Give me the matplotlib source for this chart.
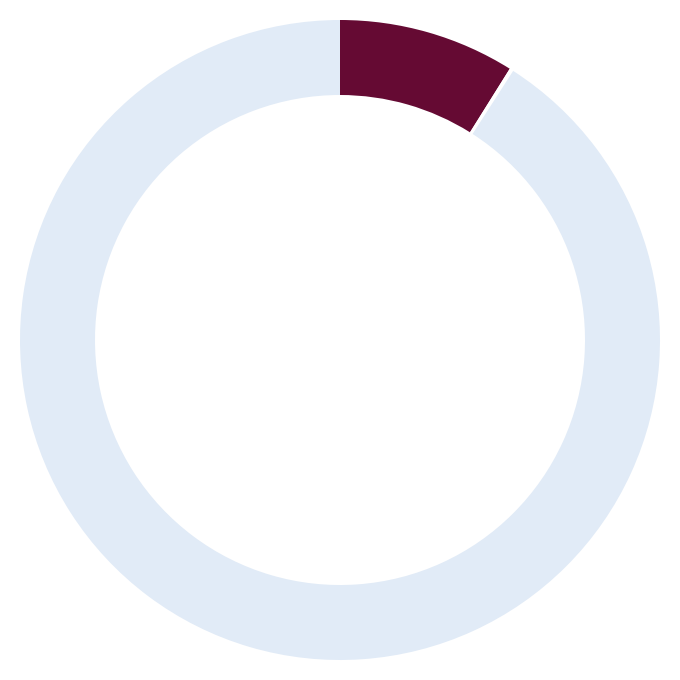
import matplotlib
matplotlib.use("Agg")
import matplotlib.pyplot as plt

# Data
labels = ["Share", "Gap", "Rest"]
values = [8.9, 0.2, 90.9]
colors = ["#650a33", "#ffffff", "#e1ebf7"]

fig = plt.figure(figsize=(6.8, 6.8), dpi=100, facecolor="white")
ax = fig.add_axes([0, 0, 1, 1])

ax.pie(values, colors=colors, startangle=90, counterclock=False,
       radius=320 / 340, wedgeprops=dict(width=75 / 340, linewidth=0))
ax.set_xlim(-1, 1)
ax.set_ylim(-1, 1)
ax.set_aspect("equal")
ax.axis("off")

fig.savefig("out.png", dpi=100, facecolor="white")
